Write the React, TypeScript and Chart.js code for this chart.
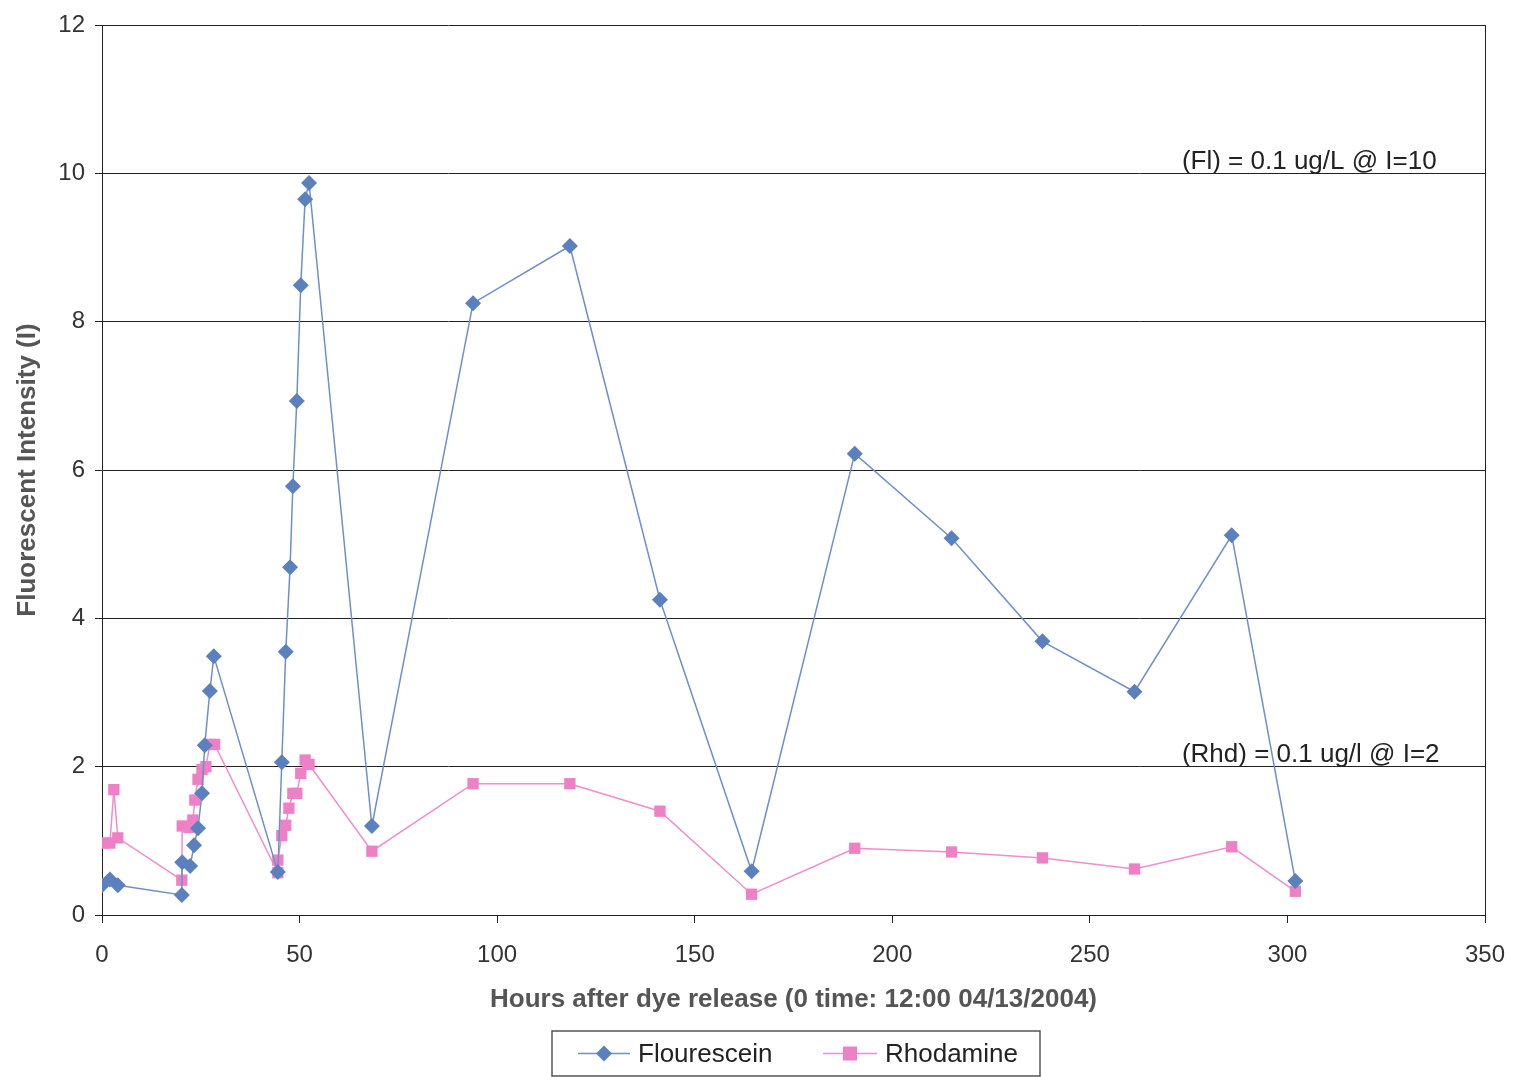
import React, { useEffect, useRef } from "react";
import { Chart, registerables } from "chart.js";

Chart.register(...registerables);

const seriesNames = ["Flourescein", "Rhodamine"];

const flHours = [0, 2, 4, 20.2, 20.3, 22.3, 23.3, 24.3, 25.3, 26, 27.3, 28.3, 44.5, 45.5, 46.5, 47.6, 48.3, 49.3, 50.3, 51.4, 52.4, 68.3, 93.9, 118.4, 141.2, 164.4, 190.5, 215, 238, 261.3, 285.9, 302];
const flValues = [0.4, 0.48, 0.4, 0.27, 0.71, 0.66, 0.94, 1.17, 1.64, 2.29, 3.02, 3.49, 0.58, 2.06, 3.55, 4.69, 5.78, 6.93, 8.49, 9.65, 9.87, 1.2, 8.25, 9.02, 4.25, 0.59, 6.22, 5.08, 3.69, 3.01, 5.12, 0.46];

const rhHours = [0.5, 2, 3, 4, 20.2, 20.3, 22, 23, 23.5, 24.3, 25.3, 26.3, 27.3, 28.5, 44.5, 44.5, 45.5, 46.5, 47.3, 48.3, 49.3, 50.3, 51.4, 52.4, 68.3, 93.9, 118.4, 141.2, 164.4, 190.5, 215, 238, 261.3, 285.9, 302];
const rhValues = [0.97, 0.97, 1.69, 1.04, 0.47, 1.2, 1.18, 1.28, 1.55, 1.83, 1.96, 2.0, 2.3, 2.3, 0.57, 0.74, 1.07, 1.21, 1.44, 1.64, 1.64, 1.91, 2.09, 2.03, 0.86, 1.77, 1.77, 1.4, 0.28, 0.9, 0.85, 0.77, 0.62, 0.92, 0.32];

const annotationTexts = ["(Fl) = 0.1 ug/L @ I=10", "(Rhd) = 0.1 ug/l @ I=2"];
const annotationX = [273.3, 273.3];
const annotationY = [10, 2];

const xTitle = "Hours after dye release (0 time: 12:00 04/13/2004)";
const yTitle = "Fluorescent Intensity (I)";

const FONT = "'Liberation Sans', Arial, sans-serif";
const BLUE_LINE = "#6f8fca";
const BLUE_MARK = "#5b80be";
const PINK_LINE = "#f28ccc";
const PINK_MARK = "#ee80c6";

const extrasPlugin = {
  id: "extras",
  afterDraw(chart: any) {
    const ctx = chart.ctx;
    const area = chart.chartArea;
    const xs = chart.scales.x;
    const ys = chart.scales.y;
    ctx.save();
    // right border
    ctx.strokeStyle = "#222";
    ctx.lineWidth = 1;
    ctx.beginPath();
    ctx.moveTo(area.right + 0.5, area.top);
    ctx.lineTo(area.right + 0.5, area.bottom);
    ctx.stroke();
    // annotations
    ctx.fillStyle = "#222";
    ctx.font = `26px ${FONT}`;
    ctx.textAlign = "left";
    ctx.textBaseline = "bottom";
    annotationTexts.forEach((t, i) => {
      ctx.fillText(t, xs.getPixelForValue(annotationX[i]), ys.getPixelForValue(annotationY[i]) + 1);
    });
    // legend
    const bx = 552, by = 1031, bw = 488, bh = 45;
    ctx.strokeStyle = "#555";
    ctx.lineWidth = 1.5;
    ctx.strokeRect(bx, by, bw, bh);
    const cy = by + bh / 2;
    const items = [
      { x0: 578, x1: 630, text: seriesNames[0], line: BLUE_LINE, mark: BLUE_MARK, shape: "diamond" },
      { x0: 823, x1: 877, text: seriesNames[1], line: PINK_LINE, mark: PINK_MARK, shape: "square" },
    ];
    items.forEach((it) => {
      ctx.strokeStyle = it.line;
      ctx.lineWidth = 1.5;
      ctx.beginPath();
      ctx.moveTo(it.x0, cy);
      ctx.lineTo(it.x1, cy);
      ctx.stroke();
      const mx = (it.x0 + it.x1) / 2;
      ctx.fillStyle = it.mark;
      ctx.beginPath();
      if (it.shape === "diamond") {
        ctx.moveTo(mx, cy - 8);
        ctx.lineTo(mx + 8, cy);
        ctx.lineTo(mx, cy + 8);
        ctx.lineTo(mx - 8, cy);
        ctx.closePath();
        ctx.fill();
      } else {
        ctx.fillRect(mx - 7, cy - 7, 14, 14);
      }
      ctx.fillStyle = "#222";
      ctx.font = `26px ${FONT}`;
      ctx.textBaseline = "middle";
      ctx.fillText(it.text, it.x1 + 8, cy + 1);
    });
    ctx.restore();
  },
};

export default function App() {
  const ref = useRef<HTMLCanvasElement>(null);
  useEffect(() => {
    if (!ref.current) return;
    const chart = new Chart(ref.current, {
      type: "scatter",
      data: {
        datasets: [
          {
            label: seriesNames[0],
            data: flHours.map((h, i) => ({ x: h, y: flValues[i] })),
            showLine: true,
            borderColor: BLUE_LINE,
            backgroundColor: BLUE_MARK,
            borderWidth: 1.5,
            pointStyle: "rectRot",
            pointRadius: 8,
            pointBorderWidth: 0,
          },
          {
            label: seriesNames[1],
            data: rhHours.map((h, i) => ({ x: h, y: rhValues[i] })),
            showLine: true,
            borderColor: PINK_LINE,
            backgroundColor: PINK_MARK,
            borderWidth: 1.5,
            pointStyle: "rect",
            pointRadius: 8,
            pointBorderWidth: 0,
          },
        ],
      },
      options: {
        animation: false,
        responsive: false,
        devicePixelRatio: 1,
        layout: { padding: { top: 25, right: 28, bottom: 57, left: 0 } },
        plugins: { legend: { display: false }, tooltip: { enabled: false } },
        scales: {
          x: {
            type: "linear",
            min: 0,
            max: 350,
            ticks: { stepSize: 50, color: "#333", font: { family: FONT, size: 24 }, padding: 18 },
            grid: { drawOnChartArea: false, drawTicks: true, tickLength: 8, color: "#222" },
            border: { display: true, color: "#222", width: 1 },
            title: {
              display: true,
              text: xTitle,
              color: "#555",
              font: { family: FONT, size: 26, weight: "bold" },
              padding: { top: 5, bottom: 5 },
            },
            afterFit: (s: any) => {
              s.height = 105;
              s.paddingLeft = 0;
              s.paddingRight = 0;
            },
          },
          y: {
            min: 0,
            max: 12,
            ticks: { stepSize: 2, color: "#333", font: { family: FONT, size: 24 }, padding: 10 },
            grid: { color: "#222", lineWidth: 1, tickLength: 7 },
            border: { display: true, color: "#222", width: 1 },
            title: {
              display: true,
              text: yTitle,
              color: "#555",
              font: { family: FONT, size: 26, weight: "bold" },
              padding: { top: 12, bottom: 12 },
            },
            afterFit: (s: any) => {
              s.width = 102;
              s.paddingTop = 0;
              s.paddingBottom = 0;
            },
          },
        },
      },
      plugins: [extrasPlugin],
    } as any);
    return () => chart.destroy();
  }, []);
  return (
    <div style={{ position: "absolute", left: 0, top: 0, width: 1513, height: 1077, background: "#fff" }}>
      <canvas ref={ref} width={1513} height={1077} style={{ display: "block" }} />
    </div>
  );
}
